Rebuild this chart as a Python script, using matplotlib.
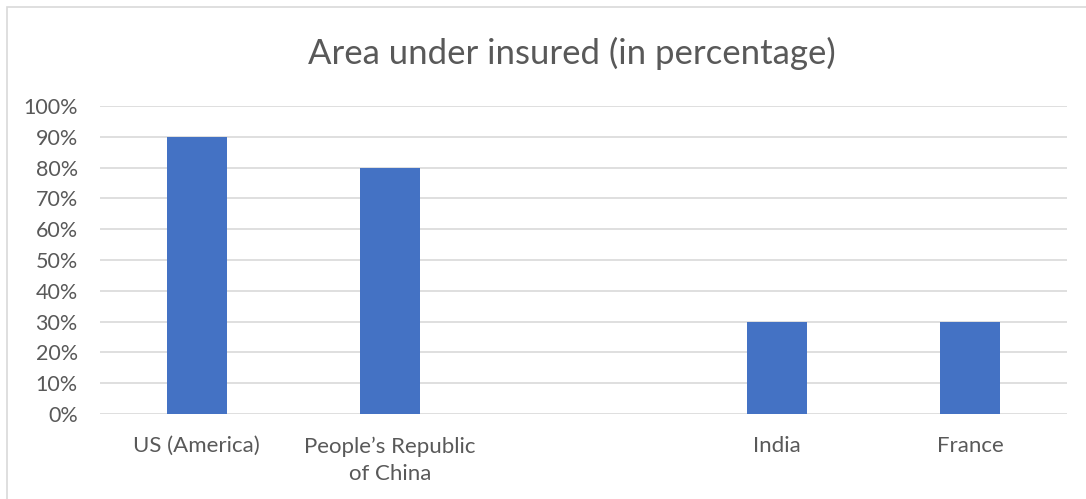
import matplotlib
matplotlib.use('Agg')
import matplotlib.pyplot as plt
from matplotlib.patches import Rectangle
from matplotlib.ticker import PercentFormatter

# data
countries = ['US (America)', 'People\u2019s Republic\nof China', '', 'India', 'France']
insured = [90, 80, 0, 30, 30]

plt.rcParams['font.family'] = ['Lato', 'DejaVu Sans']
txt = '#595959'

fig = plt.figure(figsize=(10.86, 4.99), dpi=100)
fig.patches.append(Rectangle((7 / 1086, -0.1), 1.2, 1 - 7 / 499 + 0.1, transform=fig.transFigure,
                             fill=False, edgecolor='#d9d9d9', linewidth=1.2))

ax = fig.add_axes([100 / 1086, 1 - 414 / 499, 967 / 1086, 308 / 499])
x = range(len(countries))
ax.bar(x, insured, width=0.31, color='#4472C4', zorder=3)

ax.set_xlim(-0.5, len(countries) - 0.5)
ax.set_ylim(0, 100)
ax.set_yticks(range(0, 101, 10))
ax.yaxis.set_major_formatter(PercentFormatter(decimals=0))
ax.set_xticks(list(x))
ax.set_xticklabels(countries, linespacing=1.45)
ax.tick_params(axis='both', length=0, colors=txt)
ax.tick_params(axis='x', pad=16, labelsize=16)
ax.tick_params(axis='y', pad=16, labelsize=15.5)
ax.grid(axis='y', color='#d9d9d9', linewidth=1.2, zorder=0)
for s in ax.spines.values():
    s.set_visible(False)

fig.text(572 / 1086, 1 - 53 / 499, 'Area under insured (in percentage)', ha='center', va='center',
         fontsize=25, color=txt)

fig.savefig('out.png', dpi=100)
